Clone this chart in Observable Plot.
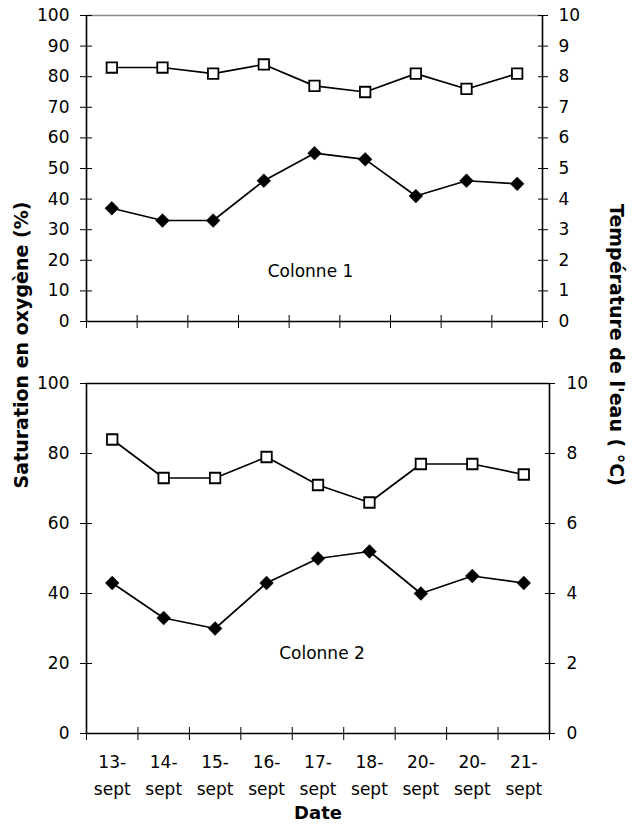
<!DOCTYPE html>
<html>
<head>
<meta charset="utf-8">
<script src="https://cdn.jsdelivr.net/npm/d3@7"></script>
<script src="https://cdn.jsdelivr.net/npm/@observablehq/plot@0.6"></script>
<style>
  html, body { margin: 0; padding: 0; background: #fff; }
  #wrap { position: relative; width: 632px; height: 827px; font-family: "DejaVu Sans", sans-serif; color: #000; }
  .p { position: absolute; left: 0; }
  .title { position: absolute; font-weight: bold; font-size: 19px; white-space: nowrap; }
</style>
</head>
<body>
<div id="wrap">
  <div id="top" class="p" style="top:0"></div>
  <div id="bot" class="p" style="top:340px"></div>
  <div class="title" style="left:21px; top:345px; transform: translate(-50%,-50%) rotate(-90deg);">Saturation en oxygène (%)</div>
  <div class="title" style="left:617px; top:345px; transform: translate(-50%,-50%) rotate(90deg);">Température de l'eau ( °C)</div>
  <div class="title" style="left:318px; top:812px; font-size:18px; transform: translate(-50%,-50%);">Date</div>
</div>
<script>
// Data
const dates = ["13-sept","14-sept","15-sept","16-sept","17-sept","18-sept","20-sept","20-sept","21-sept"];
// Colonne 1 (left axis %, right axis = value/10 °C)
const col1Squares  = [83, 83, 81, 84, 77, 75, 81, 76, 81];
const col1Diamonds = [37, 33, 33, 46, 55, 53, 41, 46, 45];
// Colonne 2
const col2Squares  = [84, 73, 73, 79, 71, 66, 77, 77, 74];
const col2Diamonds = [43, 33, 30, 43, 50, 52, 40, 45, 43];
const col1Ticks = [0,10,20,30,40,50,60,70,80,90,100];
const col2Ticks = [0,20,40,60,80,100];
const panelLabels = ["Colonne 1", "Colonne 2"];

const idx = dates.map((d, i) => i);
const FONT = "DejaVu Sans, sans-serif";
const FS = 17;

function panel(opts) {
  const {sq, dia, ticks, height, marginTop, marginBottom, marginRight, topStroke, label, labelDy, labelDx, showX, rightPad} = opts;
  const marks = [
    Plot.ruleY([100], {stroke: topStroke, strokeWidth: 1.5}),
    Plot.ruleX([0], {stroke: "#000", strokeWidth: 1.6}),
    Plot.ruleX([9], {stroke: "#000", strokeWidth: 1.6}),
    Plot.ruleY([0], {stroke: "#000", strokeWidth: 1.6}),
    // left ticks (crossing) and labels
    Plot.axisY({anchor: "left", ticks, tickSize: 12, dx: 6, tickFormat: () => "", label: null}),
    Plot.axisY({anchor: "left", ticks, tickSize: 0, tickPadding: 17, label: null, fontSize: FS}),
    // right ticks (crossing) and labels (°C = value / 10)
    Plot.axisY({anchor: "right", ticks, tickSize: 10, dx: -5, tickFormat: () => "", label: null}),
    Plot.axisY({anchor: "right", ticks, tickSize: 0, tickPadding: rightPad, tickFormat: d => d / 10, label: null, fontSize: FS}),
    // bottom ticks at category boundaries
    Plot.axisX({anchor: "bottom", ticks: d3.range(dates.length + 1), tickSize: 13, dy: -6, tickFormat: () => "", label: null}),
    Plot.line(idx, {x: i => i + 0.5, y: i => sq[i], stroke: "#000", strokeWidth: 1.7}),
    Plot.line(idx, {x: i => i + 0.5, y: i => dia[i], stroke: "#000", strokeWidth: 1.7}),
    Plot.dot(idx, {x: i => i + 0.5, y: i => dia[i], symbol: "diamond2", r: 6.2, fill: "#000", stroke: "#000", strokeWidth: 0.5}),
    Plot.dot(idx, {x: i => i + 0.5, y: i => sq[i], symbol: "square", r: 5.9, fill: "#fff", stroke: "#000", strokeWidth: 1.8}),
    Plot.text([label], {frameAnchor: "bottom", dy: labelDy, dx: labelDx, text: d => d, fontSize: FS})
  ];
  if (showX) {
    marks.push(
      Plot.axisX({anchor: "bottom", ticks: idx.map(i => i + 0.5), tickSize: 0, tickPadding: 22,
        tickFormat: v => dates[Math.round(v - 0.5)].split("-")[0] + "-", label: null, fontSize: FS}),
      Plot.axisX({anchor: "bottom", ticks: idx.map(i => i + 0.5), tickSize: 0, tickPadding: 49,
        tickFormat: v => dates[Math.round(v - 0.5)].split("-")[1], label: null, fontSize: FS})
    );
  }
  return Plot.plot({
    width: 632, height, marginTop, marginBottom, marginLeft: 86, marginRight,
    style: {fontFamily: FONT, fontSize: FS + "px", color: "#000", background: "transparent", overflow: "visible"},
    x: {type: "linear", domain: [0, dates.length]},
    y: {domain: [0, 100]},
    marks
  });
}

document.getElementById("top").appendChild(panel({
  sq: col1Squares, dia: col1Diamonds, ticks: col1Ticks,
  height: 340, marginTop: 15, marginBottom: 19, marginRight: 90,
  topStroke: "#888", label: panelLabels[0], labelDy: -45, labelDx: -4, showX: false, rightPad: 16
}));
document.getElementById("bot").appendChild(panel({
  sq: col2Squares, dia: col2Diamonds, ticks: col2Ticks,
  height: 487, marginTop: 43, marginBottom: 94, marginRight: 83,
  topStroke: "#000", label: panelLabels[1], labelDy: -75, labelDx: 4, showX: true, rightPad: 17
}));
</script>
</body>
</html>
